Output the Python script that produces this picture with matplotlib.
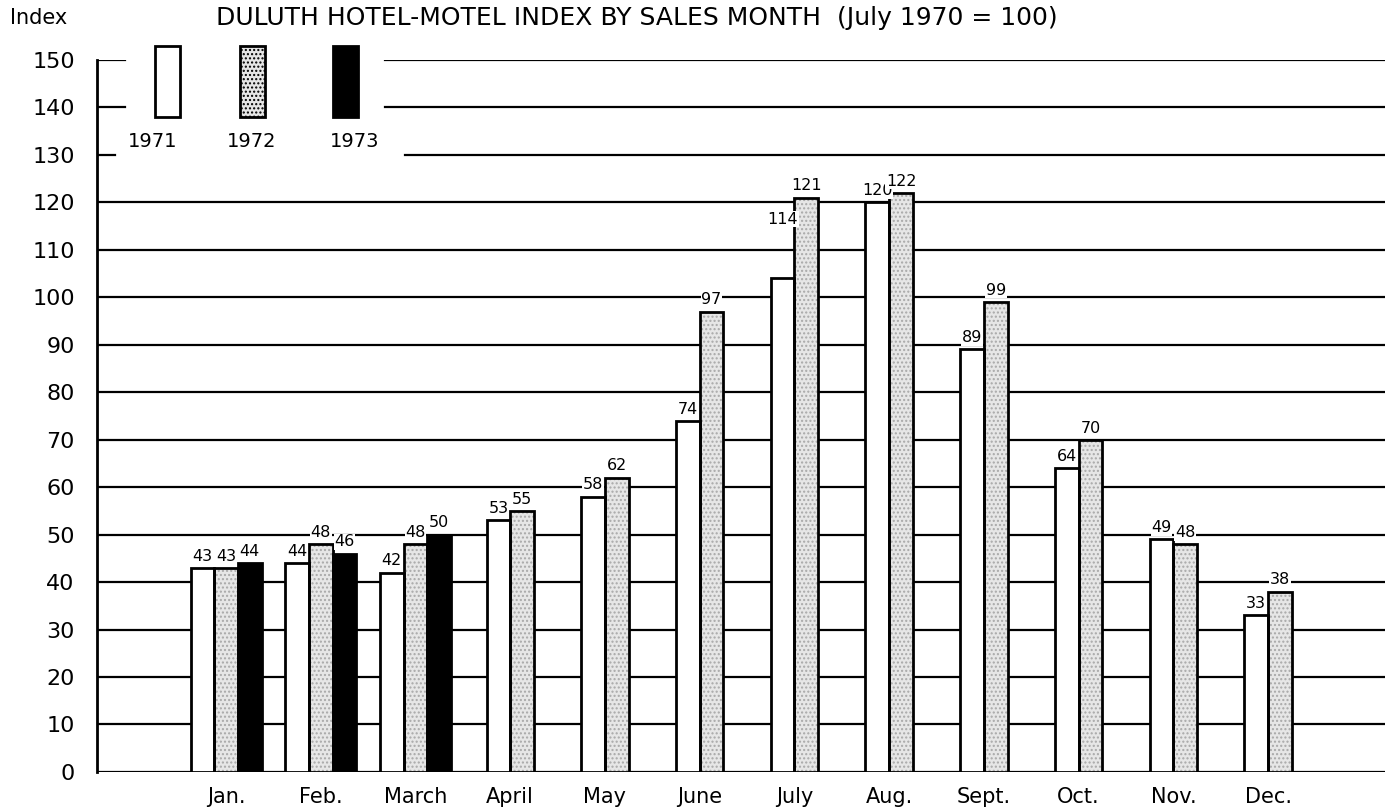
import numpy as np
import matplotlib
matplotlib.use("Agg")
import matplotlib.pyplot as plt
from matplotlib.patches import Rectangle

plt.rcParams['font.family'] = ['DejaVu Sans']

months = ['Jan.', 'Feb.', 'March', 'April', 'May', 'June', 'July',
          'Aug.', 'Sept.', 'Oct.', 'Nov.', 'Dec.']

# printed values above the bars
labels_1971 = [43, 44, 42, 53, 58, 74, 114, 120, 89, 64, 49, 33]
labels_1972 = [43, 48, 48, 55, 62, 97, 121, 122, 99, 70, 48, 38]
labels_1973 = [44, 46, 50]

# bar heights as drawn (July 1971 is drawn near 104 although printed 114)
heights_1971 = [43, 44, 42, 53, 58, 74, 104, 120, 89, 64, 49, 33]
heights_1972 = labels_1972
heights_1973 = labels_1973

years = ['1971', '1972', '1973']
yticks = list(range(0, 151, 10))

STIP_FACE = '#e6e6e6'
STIP_DOT = '#a8a8a8'


def draw_stipple(ax, x, h, w):
    # light grey fill with fine dots, then black outline
    ax.bar(x, h, w, color=STIP_FACE, edgecolor=STIP_DOT, hatch='....',
           linewidth=0, zorder=3)
    ax.bar(x, h, w, facecolor='none', edgecolor='black', linewidth=2.0,
           zorder=4)


def put_labels(ax, x, vals):
    for xi, v in zip(x, vals):
        ax.annotate(str(v), (xi, v), xytext=(0, 3), textcoords='offset points',
                    ha='center', va='bottom', fontsize=11.5, zorder=6,
                    bbox=dict(facecolor='white', edgecolor='none', pad=0.5))


fig = plt.figure(figsize=(13.88, 8.10), dpi=100)
ax = fig.add_axes([0.0699, 0.047, 0.928, 0.879])

w = 0.25
n3 = len(heights_1973)
x = np.arange(len(months), dtype=float)

x71 = x.copy()
x72 = x.copy()
x71[:n3] -= w
x71[n3:] -= w / 2
x72[n3:] += w / 2
x73 = x[:n3] + w

ax.bar(x71, heights_1971, w, color='white', edgecolor='black', linewidth=2.0, zorder=4)
draw_stipple(ax, x72, heights_1972, w)
ax.bar(x73, heights_1973, w, color='black', edgecolor='black', linewidth=2.0, zorder=4)

put_labels(ax, x71, labels_1971)
put_labels(ax, x72, labels_1972)
put_labels(ax, x73, labels_1973)

# horizontal rules, broken where the key sits
for t in yticks:
    if t in (140, 150):
        ax.axhline(t, 0, 0.0217, color='black', lw=1.6, zorder=1)
        ax.axhline(t, 0.2236, 1, color='black', lw=1.6, zorder=1)
    elif t == 130:
        ax.axhline(t, 0, 0.014, color='black', lw=1.6, zorder=1)
        ax.axhline(t, 0.239, 1, color='black', lw=1.6, zorder=1)
    else:
        ax.axhline(t, color='black', lw=1.6, zorder=1)

ax.set_xlim(-1.362, 12.235)
ax.set_ylim(0, 150)
ax.set_yticks(yticks)
ax.set_yticklabels([str(t) for t in yticks], fontsize=16)
ax.set_xticks(x)
ax.set_xticklabels(months, fontsize=15)
ax.tick_params(axis='y', length=0, pad=16)
ax.tick_params(axis='x', length=0, pad=11)
for s in ['top', 'right', 'bottom']:
    ax.spines[s].set_visible(False)
ax.spines['left'].set_linewidth(2.0)

# key
key_x = [0.045, 0.111, 0.183]
key_lab_x = [0.0435, 0.1203, 0.2003]
key_style = [dict(facecolor='white'),
             dict(facecolor=STIP_FACE, hatch='....'),
             dict(facecolor='black')]
for kx, lx, yr, st in zip(key_x, key_lab_x, years, key_style):
    r = Rectangle((kx, 0.92), 0.0195, 0.099, transform=ax.transAxes,
                  edgecolor='black', linewidth=2.0, clip_on=False, zorder=5, **st)
    ax.add_patch(r)
    ax.text(lx, 0.885, yr, transform=ax.transAxes, ha='center', va='center',
            fontsize=14)

fig.text(0.0072, 0.978, 'Index', ha='left', va='center', fontsize=15)
fig.text(0.459, 0.978, 'DULUTH HOTEL-MOTEL INDEX BY SALES MONTH  (July 1970 = 100)',
         ha='center', va='center', fontsize=18)

fig.savefig('out.png', dpi=100)
